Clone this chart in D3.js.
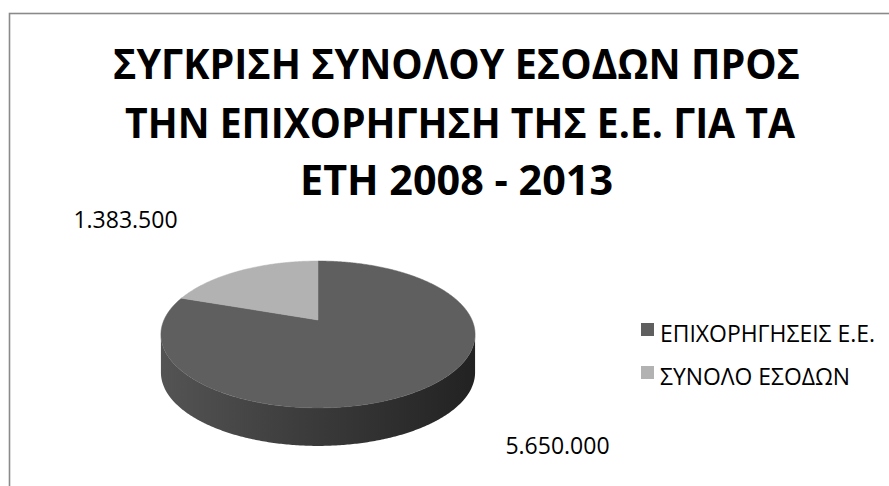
<!DOCTYPE html>
<html>
<head>
<meta charset="utf-8">
<script src="https://cdn.jsdelivr.net/npm/d3@7"></script>
<style>
  html, body { margin: 0; padding: 0; background: #ffffff; }
  svg { display: block; }
</style>
</head>
<body>
<svg id="chart" width="889" height="486"></svg>
<script>
// ---- data ----
const categories = ["ΕΠΙΧΟΡΗΓΗΣΕΙΣ Ε.Ε.", "ΣΥΝΟΛΟ ΕΣΟΔΩΝ"];
const values = [5650000, 1383500];
const colors = ["#5f5f5f", "#b2b2b2"];
const titleLines = ["ΣΥΓΚΡΙΣΗ ΣΥΝΟΛΟΥ ΕΣΟΔΩΝ ΠΡΟΣ", "ΤΗΝ ΕΠΙΧΟΡΗΓΗΣΗ ΤΗΣ Ε.Ε. ΓΙΑ ΤΑ", "ΕΤΗ 2008 - 2013"];

// ---- setup ----
const svg = d3.select("#chart");
const W = 889, H = 486;
svg.append("rect").attr("x", 0).attr("y", 0).attr("width", W).attr("height", H).attr("fill", "#fff");

// chart frame
svg.append("rect")
  .attr("x", 9.5).attr("y", 13.5).attr("width", W + 20).attr("height", H + 20)
  .attr("fill", "none").attr("stroke", "#8a8a8a").attr("stroke-width", 1.6);

const font = "'Open Sans', 'DejaVu Sans', sans-serif";
const locale = d3.formatLocale({ decimal: ",", thousands: ".", grouping: [3], currency: ["", "€"] });
const fmt = locale.format(",d");

// ---- title ----
const titleSpec = [
  { x: 113, y: 79, len: 687 },
  { x: 125, y: 138, len: 670 },
  { x: 300, y: 195, len: 313 }
];
svg.append("g").selectAll("text").data(titleLines).join("text")
  .attr("x", (d, i) => titleSpec[i].x)
  .attr("y", (d, i) => titleSpec[i].y)
  .attr("textLength", (d, i) => titleSpec[i].len)
  .attr("lengthAdjust", "spacingAndGlyphs")
  .attr("font-family", font).attr("font-weight", 700).attr("font-size", 42)
  .attr("fill", "#000")
  .text(d => d);

// ---- 3D pie ----
const cx = 318, cy = 320, rx = 154, ry = 70.6, k = 0.197, depth = 38;
function proj(a, dy = 0) {
  const u = Math.sin(a), v = Math.cos(a);
  const s = 1 + k * v;
  return [cx + rx * u / s, cy - ry * v / s + dy];
}
function arcPoints(a0, a1, dy = 0) {
  const n = Math.max(2, Math.ceil(Math.abs(a1 - a0) / 0.01));
  return d3.range(n + 1).map(i => proj(a0 + (a1 - a0) * i / n, dy));
}

const pie = d3.pie().sort(null).startAngle(0).endAngle(2 * Math.PI);
const arcs = pie(values);

const defs = svg.append("defs");
const rxVis = rx / Math.sqrt(1 - k * k);
const grad = defs.append("linearGradient").attr("id", "sideGrad")
  .attr("gradientUnits", "userSpaceOnUse")
  .attr("x1", cx - rxVis).attr("x2", cx + rxVis).attr("y1", 0).attr("y2", 0);
grad.append("stop").attr("offset", "0%").attr("stop-color", "#545454");
grad.append("stop").attr("offset", "45%").attr("stop-color", "#3c3c3c");
grad.append("stop").attr("offset", "100%").attr("stop-color", "#222222");

const gradL = defs.append("linearGradient").attr("id", "sideGradL")
  .attr("gradientUnits", "userSpaceOnUse")
  .attr("x1", cx - rxVis).attr("x2", cx + rxVis).attr("y1", 0).attr("y2", 0);
gradL.append("stop").attr("offset", "0%").attr("stop-color", "#9a9a9a");
gradL.append("stop").attr("offset", "100%").attr("stop-color", "#5a5a5a");

// visible front side range
const aR = Math.acos(-k), aL = 2 * Math.PI - Math.acos(-k);
const line = d3.line();
const gPie = svg.append("g");

arcs.forEach((a, i) => {
  const s = Math.max(a.startAngle, aR), e = Math.min(a.endAngle, aL);
  if (e > s) {
    const top = arcPoints(s, e, 0);
    const bot = arcPoints(e, s, depth);
    gPie.append("path")
      .attr("d", line(top.concat(bot)) + "Z")
      .attr("fill", i === 0 ? "url(#sideGrad)" : "url(#sideGradL)");
  }
});

arcs.forEach((a, i) => {
  const pts = [[cx, cy]].concat(arcPoints(a.startAngle, a.endAngle, 0));
  gPie.append("path")
    .attr("d", line(pts) + "Z")
    .attr("fill", colors[i])
    .attr("stroke", colors[i]).attr("stroke-width", 0.5);
});

// ---- data labels ----
const labelOffset = [
  { dx: 239.5, dy: 134 },
  { dx: -192.5, dy: -92 }
];
svg.append("g").selectAll("text").data(arcs).join("text")
  .attr("x", (d, i) => cx + labelOffset[i].dx)
  .attr("y", (d, i) => cy + labelOffset[i].dy)
  .attr("text-anchor", "middle")
  .attr("font-family", font).attr("font-size", 23).attr("fill", "#000")
  .text(d => fmt(d.data));

// ---- legend ----
const legendSpec = [
  { y: 323, len: 215 },
  { y: 366, len: 190 }
];
const leg = svg.append("g");
categories.forEach((c, i) => {
  leg.append("rect").attr("x", 641).attr("y", legendSpec[i].y).attr("width", 13).attr("height", 13)
    .attr("fill", colors[i]);
  leg.append("text")
    .attr("x", 660).attr("y", legendSpec[i].y + 19)
    .attr("textLength", legendSpec[i].len).attr("lengthAdjust", "spacingAndGlyphs")
    .attr("font-family", font).attr("font-size", 23).attr("fill", "#000")
    .text(c);
});
</script>
</body>
</html>
